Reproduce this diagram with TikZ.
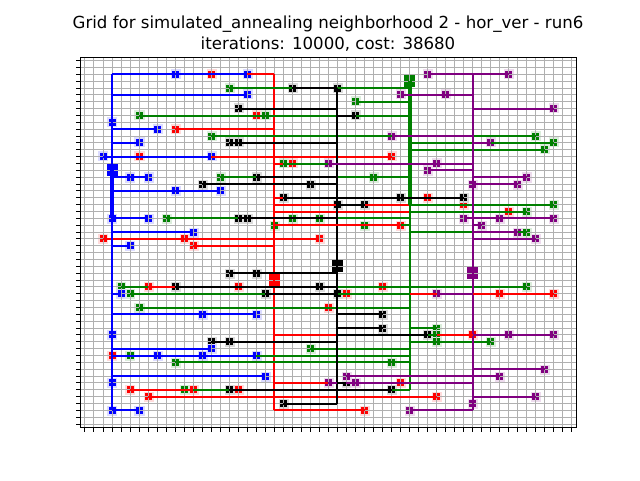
\documentclass[tikz,border=0pt]{standalone}
\usepackage{fontspec}
\setmainfont{DejaVu Sans}
\definecolor{netgreen}{RGB}{0,128,0}
\definecolor{netpurple}{RGB}{128,0,128}
\definecolor{gridgray}{RGB}{176,176,176}
\tikzset{
  wire/.style={line width=2.5pt},
  gridline/.style={gridgray,line width=1pt},
  axisline/.style={black,line width=1.1pt},
  declare function={
    sx(\i)=(floor(103+9.018*\i)+0.5-103)/9.018;
    sy(\j)=(floor(69.6+6.857*\j)+0.5-69.6)/6.857;
    wx(\i)=(round(103+9.018*\i)-103)/9.018;
    wy(\j)=(round(69.6+6.857*\j)-69.6)/6.857;
  },
}
% pins: colour, list of cells
\newcommand{\drawpins}[2]{%
  \foreach \a/\b in {#2} {
    \fill[#1!14] ({sx(\a)},{sy(\b)}) +(-5pt,-5pt) rectangle +(5pt,5pt);
    \fill[#1] ({sx(\a)},{sy(\b)}) +(-3.9pt,-3.9pt) rectangle +(3.9pt,3.9pt);
  }}
% source pins are larger
\newcommand{\drawsource}[3]{%
  \fill[#1] ({sx(#2)},{sy(#3)}) +(-5.5pt,-5.5pt) rectangle +(5.5pt,6.5pt);}
% wires: colour, list of from/to/row
\newcommand{\drawhor}[2]{%
  \foreach \a/\b/\r in {#2} \draw[wire,#1] ({wx(\a)},{wy(\r)}) -- ({wx(\b)},{wy(\r)});}
\begin{document}
\begin{tikzpicture}[x=9.018pt,y=6.857pt]
    \useasboundingbox (-103pt,-69.6pt) rectangle ++(640pt,480pt);
    % pins
    \drawpins{red}{12/49,17/43,8/41,4/37,32/37,21/36,36/31,40/30,45/29,33/27,0/25,9/25,24/25,10/24,5/18,15/18,31/18,27/17,44/17,50/17,25/15,41/11,1/8,33/4,3/3,10/3,15/3,5/2,37/2,29/0}
    \drawpins{netgreen}{14/47,28/45,4/43,18/43,12/40,48/40,50/39,49/38,20/36,13/34,30/34,7/28,21/28,24/28,47/29,50/30,19/27,29/27,47/26,2/18,47/18,3/17,4/15,23/9,3/8,8/7,32/7,37/12,37/11,37/10,43/10,9/3}
    \drawpins{black}{21/47,26/47,15/44,28/43,14/39,15/39,17/34,11/33,23/33,20/31,33/31,40/31,26/30,29/30,15/28,16/28,14/20,17/20,8/18,24/18,18/17,26/17,31/14,31/12,36/11,12/10,14/10,27/4,14/3,32/3,20/1}
    \drawpins{netpurple}{36/49,45/49,33/46,38/46,50/44,32/40,43/39,25/36,37/36,36/35,47/34,41/33,46/33,40/28,44/28,50/28,42/27,46/26,48/25,37/17,45/11,50/11,49/6,27/5,44/5,25/4,28/4,48/2,41/1,34/0}
    \drawpins{blue}{8/49,16/49,16/46,1/42,6/41,4/39,0/37,12/37,3/34,5/34,8/32,13/32,1/28,5/28,10/26,3/24,2/17,11/14,17/14,1/11,12/9,6/8,11/8,17/8,18/5,1/4,1/0,4/0}
    % source pins
    \drawsource{red}{19}{19}
    \drawsource{netgreen}{34}{48}
    \drawsource{black}{26}{21}
    \drawsource{netpurple}{41}{20}
    \drawsource{blue}{1}{35}
    % grid
    \foreach \i in {-2,...,52} \draw[gridline] ({sx(\i)},-2.45) -- ({sx(\i)},51.45);
    \foreach \j in {-2,...,51} \draw[gridline] (-2.5,{sy(\j)}) -- (52.5,{sy(\j)});
    % red net
    \draw[wire,red] ({wx(19)},{wy(49)}) -- ({wx(19)},{wy(0)});
    \drawhor{red}{12/19/49,17/19/43,8/19/41,4/32/37,19/21/36,19/36/31,19/40/30,19/45/29,0/24/25,10/19/24,19/26/11,19/25/4,3/10/3,5/37/2,19/29/0,15/26/3}
    % green net
    \draw[wire,netgreen] ({wx(34)},{wy(48)}) -- ({wx(34)},{wy(3)});
    \draw[wire,netgreen,line width=3.2pt] ({wx(34)},{wy(48)}) -- ({wx(34)},{wy(30)});
    \drawhor{netgreen}{14/34/47,28/34/45,4/34/43,12/48/40,34/50/39,34/49/38,20/25/36,13/34/34,34/50/30,34/47/29,7/34/28,33/34/27,34/47/26,2/5/18,26/47/18,3/18/17,26/34/17,4/34/15,34/37/12,36/37/11,34/43/10,23/34/9,17/34/8,8/34/7,10/14/3,32/34/3}
    % black net
    \draw[wire,black] ({wx(26)},{wy(47)}) -- ({wx(26)},{wy(1)});
    \drawhor{black}{21/26/47,15/26/44,26/28/43,14/26/39,17/26/34,11/26/33,20/40/31,26/29/30,15/26/28,14/26/20,8/26/18,18/26/17,26/31/14,26/31/12,26/36/11,12/26/10,26/27/4,14/32/3,20/26/1}
    % purple net
    \draw[wire,netpurple] ({wx(41)},{wy(49)}) -- ({wx(41)},{wy(0)});
    \drawhor{netpurple}{36/45/49,33/41/46,41/50/44,32/41/40,41/43/39,25/41/36,36/41/35,41/47/34,41/46/33,40/50/28,41/42/27,41/46/26,41/48/25,37/41/17,41/50/11,41/49/6,27/44/5,27/41/4,25/26/4,41/48/2,34/41/0}
    % blue net
    \draw[wire,blue] ({wx(1)},{wy(49)}) -- ({wx(1)},{wy(0)});
    \draw[wire,blue,line width=3.2pt] ({wx(1)},{wy(35)}) -- ({wx(1)},{wy(28)});
    \drawhor{blue}{1/16/49,1/16/46,1/6/41,1/4/39,0/12/37,1/5/34,1/13/32,1/5/28,1/10/26,1/3/24,1/2/17,1/17/14,1/12/9,1/17/8,1/18/5,1/4/0}
    % wires that lie on top of others
    \drawhor{red}{5/8/18,19/33/27,34/37/17,41/50/17,37/41/11}
    % axes
    \draw[axisline] (-2.5,-2.45) rectangle (52.5,51.45);
    \foreach \i in {-2,...,52} \draw[axisline] ({sx(\i)},-2.45) -- ++(0,-4.9pt);
    \foreach \j in {-2,...,51} \draw[axisline] (-2.5,{sy(\j)}) -- ++(-4.9pt,0);
    \node[align=center,font=\fontsize{16.6}{21}\selectfont] (title) at (225pt,376.7pt)
      {Grid for simulated\_annealing neighborhood 2 - hor\_ver - run6\\iterations: 10000, cost: 38680};
\end{tikzpicture}
\end{document}
